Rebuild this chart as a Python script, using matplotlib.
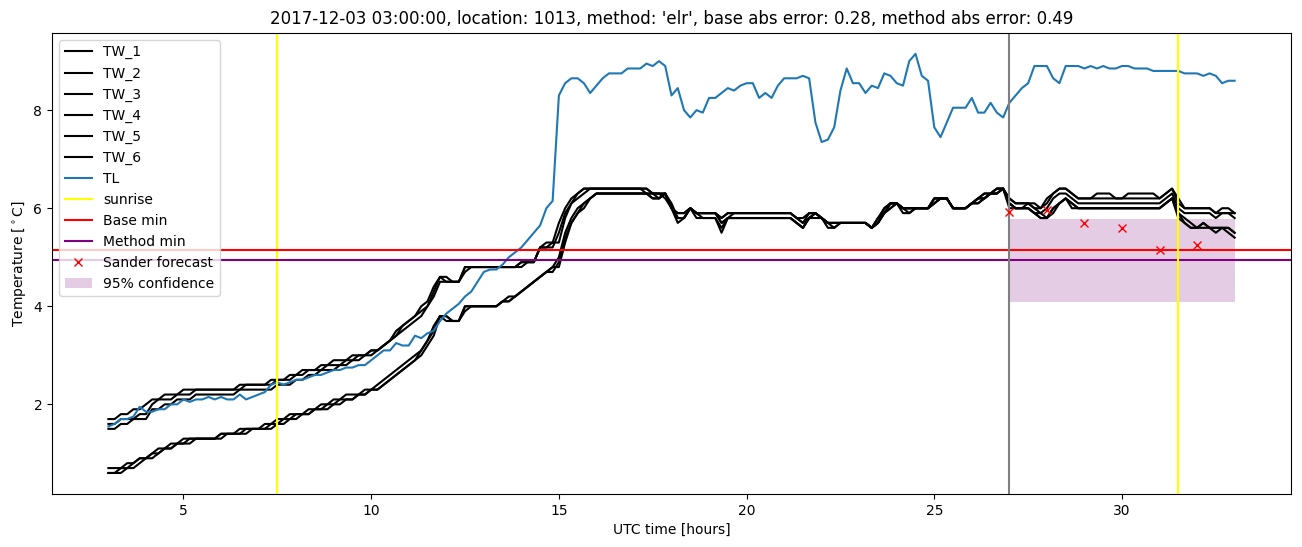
import numpy as np
import matplotlib as mpl
mpl.use('Agg')
import matplotlib.pyplot as plt


def expand(runs):
    # runs of (value, number of 10-minute samples)
    out = []
    for value, count in runs:
        out += [value] * count
    return out


# time axis: 10 minute samples from 03:00 to 33:00 UTC (hours)
hours = [3 + i / 6.0 for i in range(181)]

tw_1 = expand([(1.7, 2), (1.8, 2), (1.9, 2), (2.0, 1), (2.1, 2), (2.2, 3), (2.3, 9), (2.4, 5),
               (2.5, 3), (2.6, 2), (2.7, 3), (2.8, 2), (2.9, 3), (3.0, 3), (3.1, 2), (3.2, 1),
               (3.3, 1), (3.4, 1), (3.6, 1), (3.7, 1), (3.8, 1), (3.9, 1), (4.0, 1), (4.3, 1),
               (4.6, 2), (4.5, 2), (4.8, 9), (4.9, 3), (5.2, 1), (5.3, 2), (5.7, 1), (6.0, 1),
               (6.2, 1), (6.3, 1), (6.4, 11), (6.3, 3), (6.0, 1), (5.9, 2), (6.0, 1), (5.9, 4),
               (5.8, 1), (5.9, 11), (5.8, 1), (5.7, 1), (5.9, 2), (5.8, 1), (5.7, 7), (5.6, 1),
               (5.8, 1), (6.0, 1), (6.1, 2), (6.0, 5), (6.2, 3), (6.0, 3), (6.1, 1), (6.2, 1),
               (6.3, 2), (6.4, 2), (6.2, 1), (6.1, 3), (6.0, 2), (6.2, 1), (6.3, 1), (6.4, 2),
               (6.3, 1), (6.2, 3), (6.3, 3), (6.2, 2), (6.3, 5), (6.2, 1), (6.3, 1), (6.4, 1),
               (6.2, 1), (6.0, 5), (5.9, 1), (6.0, 2), (5.9, 1)])
tw_2 = expand([(1.5, 2), (1.6, 2), (1.7, 3), (1.9, 2), (2.0, 2), (2.1, 3), (2.2, 7), (2.3, 6),
               (2.4, 3), (2.5, 2), (2.6, 2), (2.7, 3), (2.8, 2), (2.9, 2), (3.0, 2), (3.1, 1),
               (3.2, 1), (3.3, 1), (3.4, 1), (3.5, 1), (3.6, 1), (3.7, 1), (3.8, 1), (4.0, 1),
               (4.2, 1), (4.5, 4), (4.7, 1), (4.8, 9), (4.9, 2), (5.2, 2), (5.3, 2), (5.8, 1),
               (6.1, 1), (6.2, 1), (6.3, 1), (6.4, 10), (6.3, 3), (6.0, 1), (5.8, 2), (6.0, 1),
               (5.9, 4), (5.7, 1), (5.8, 1), (5.9, 10), (5.8, 1), (5.7, 1), (5.8, 1), (5.9, 1),
               (5.8, 1), (5.7, 7), (5.6, 1), (5.7, 1), (5.9, 1), (6.1, 2), (6.0, 5), (6.1, 1),
               (6.2, 2), (6.0, 3), (6.1, 1), (6.2, 2), (6.3, 1), (6.4, 2), (6.1, 1), (6.0, 2),
               (6.1, 1), (6.0, 1), (5.9, 1), (6.0, 1), (6.2, 1), (6.3, 2), (6.2, 1), (6.1, 14),
               (6.2, 1), (6.3, 1), (6.0, 1), (5.9, 5), (5.8, 1), (5.9, 2), (5.8, 1)])
tw_3 = expand([(1.6, 2), (1.7, 3), (1.8, 2), (2.0, 1), (2.1, 3), (2.2, 3), (2.3, 8), (2.4, 5),
               (2.5, 3), (2.6, 2), (2.7, 3), (2.8, 3), (2.9, 2), (3.0, 2), (3.1, 2), (3.2, 1),
               (3.3, 1), (3.5, 1), (3.6, 1), (3.7, 1), (3.8, 1), (4.0, 1), (4.1, 1), (4.4, 1),
               (4.6, 1), (4.5, 3), (4.8, 9), (4.9, 3), (5.2, 3), (5.5, 1), (5.9, 1), (6.1, 1),
               (6.3, 1), (6.4, 10), (6.3, 3), (6.2, 1), (6.0, 1), (5.9, 2), (6.0, 1), (5.9, 4),
               (5.8, 1), (5.9, 11), (5.8, 2), (5.9, 2), (5.8, 1), (5.7, 7), (5.6, 1), (5.7, 1),
               (6.0, 1), (6.1, 2), (6.0, 5), (6.2, 3), (6.0, 3), (6.1, 1), (6.2, 1), (6.3, 3),
               (6.4, 1), (6.2, 1), (6.1, 4), (6.0, 1), (6.1, 1), (6.3, 1), (6.4, 2), (6.3, 1),
               (6.2, 14), (6.3, 1), (6.4, 1), (6.1, 1), (6.0, 5), (5.9, 4)])
tw_4 = expand([(0.6, 2), (0.7, 2), (0.8, 1), (0.9, 2), (1.0, 1), (1.1, 2), (1.2, 2), (1.3, 6),
               (1.4, 4), (1.5, 4), (1.6, 2), (1.7, 2), (1.8, 3), (1.9, 2), (2.0, 2), (2.1, 3),
               (2.2, 2), (2.3, 2), (2.4, 1), (2.5, 1), (2.6, 1), (2.7, 1), (2.8, 1), (2.9, 1),
               (3.0, 1), (3.2, 1), (3.4, 1), (3.8, 2), (3.7, 2), (4.0, 6), (4.1, 2), (4.2, 1),
               (4.3, 1), (4.4, 1), (4.5, 1), (4.6, 1), (4.7, 1), (4.8, 1), (5.0, 1), (5.5, 1),
               (5.8, 1), (6.0, 1), (6.1, 1), (6.2, 1), (6.3, 9), (6.2, 2), (6.3, 1), (6.0, 1),
               (5.7, 1), (5.8, 1), (6.0, 1), (5.9, 1), (5.8, 3), (5.6, 1), (5.8, 11), (5.7, 1),
               (5.6, 1), (5.8, 1), (5.9, 1), (5.8, 1), (5.7, 1), (5.6, 1), (5.7, 5), (5.6, 1),
               (5.7, 1), (5.9, 1), (6.0, 1), (6.1, 1), (6.0, 1), (5.9, 1), (6.0, 3), (6.1, 1),
               (6.2, 2), (6.0, 3), (6.1, 2), (6.2, 1), (6.3, 2), (6.4, 1), (6.1, 1), (6.0, 3),
               (5.9, 1), (5.8, 2), (6.0, 1), (6.1, 1), (6.2, 1), (6.0, 15), (6.1, 1), (6.2, 1),
               (5.8, 1), (5.7, 1), (5.6, 2), (5.7, 1), (5.6, 4), (5.5, 1)])
tw_5 = expand([(0.6, 3), (0.7, 2), (0.8, 1), (0.9, 2), (1.0, 1), (1.1, 2), (1.2, 2), (1.3, 6),
               (1.4, 4), (1.5, 4), (1.6, 2), (1.7, 2), (1.8, 2), (1.9, 3), (2.0, 2), (2.1, 2),
               (2.2, 2), (2.3, 2), (2.4, 1), (2.5, 1), (2.6, 1), (2.7, 1), (2.8, 1), (2.9, 1),
               (3.1, 1), (3.3, 1), (3.5, 1), (3.8, 1), (3.7, 3), (4.0, 6), (4.1, 2), (4.2, 1),
               (4.3, 1), (4.4, 1), (4.5, 1), (4.6, 1), (4.7, 2), (4.9, 1), (5.4, 1), (5.7, 1),
               (5.9, 1), (6.1, 1), (6.2, 1), (6.3, 10), (6.2, 1), (6.3, 1), (6.0, 1), (5.8, 2),
               (6.0, 1), (5.8, 4), (5.5, 1), (5.8, 11), (5.7, 1), (5.6, 1), (5.8, 3), (5.6, 2),
               (5.7, 5), (5.6, 1), (5.7, 1), (5.9, 1), (6.1, 2), (5.9, 2), (6.0, 3), (6.2, 3),
               (6.0, 3), (6.1, 2), (6.2, 1), (6.3, 2), (6.4, 1), (6.0, 4), (5.9, 1), (5.8, 2),
               (5.9, 1), (6.1, 1), (6.2, 1), (6.1, 1), (6.0, 14), (6.1, 1), (6.2, 1), (5.9, 1),
               (5.8, 1), (5.7, 1), (5.6, 3), (5.5, 1), (5.6, 1), (5.5, 1), (5.4, 1)])
tw_6 = expand([(0.7, 3), (0.8, 2), (0.9, 2), (1.0, 2), (1.1, 2), (1.2, 3), (1.3, 4), (1.4, 3),
               (1.5, 4), (1.6, 2), (1.7, 2), (1.8, 3), (1.9, 2), (2.0, 2), (2.1, 2), (2.2, 3),
               (2.3, 2), (2.4, 1), (2.5, 1), (2.6, 1), (2.7, 1), (2.8, 1), (2.9, 1), (3.0, 1),
               (3.1, 1), (3.3, 1), (3.6, 1), (3.8, 2), (3.7, 2), (3.9, 1), (4.0, 5), (4.1, 1),
               (4.2, 2), (4.3, 1), (4.4, 1), (4.5, 1), (4.6, 1), (4.7, 1), (4.8, 2), (5.3, 1),
               (5.7, 1), (5.9, 1), (6.0, 1), (6.2, 1), (6.3, 9), (6.2, 2), (6.3, 1), (6.1, 1),
               (5.8, 2), (6.0, 1), (5.9, 4), (5.7, 1), (5.8, 11), (5.7, 1), (5.6, 1), (5.8, 1),
               (5.9, 1), (5.8, 1), (5.7, 7), (5.6, 1), (5.8, 1), (5.9, 1), (6.0, 1), (6.1, 1),
               (6.0, 5), (6.1, 1), (6.2, 2), (6.0, 3), (6.1, 1), (6.2, 2), (6.3, 1), (6.4, 2),
               (6.1, 1), (6.0, 3), (5.9, 2), (5.8, 1), (6.0, 1), (6.1, 1), (6.2, 1), (6.1, 1),
               (6.0, 14), (6.1, 1), (6.2, 1), (5.9, 1), (5.7, 1), (5.6, 2), (5.7, 1), (5.6, 4),
               (5.5, 1)])

tl = [1.55, 1.6, 1.7, 1.7, 1.75, 1.95, 1.85, 1.85, 1.9, 1.9, 2.0, 2.0,
      2.1, 2.05, 2.1, 2.1, 2.15, 2.1, 2.15, 2.1, 2.1, 2.2, 2.1, 2.15,
      2.2, 2.25, 2.4, 2.45, 2.4, 2.45, 2.5, 2.5, 2.55, 2.6, 2.6, 2.65,
      2.7, 2.7, 2.75, 2.75, 2.8, 2.8, 2.9, 3.0, 3.1, 3.1, 3.25, 3.2,
      3.2, 3.4, 3.35, 3.45, 3.5, 3.7, 3.85, 3.95, 4.05, 4.2, 4.3, 4.5,
      4.7, 4.75, 4.75, 4.85, 5.0, 5.1, 5.2, 5.35, 5.5, 5.65, 6.0, 6.15,
      8.3, 8.55, 8.65, 8.65, 8.55, 8.35, 8.5, 8.65, 8.75, 8.75, 8.75, 8.85,
      8.85, 8.85, 8.95, 8.9, 9.0, 8.9, 8.3, 8.45, 8.0, 7.85, 8.0, 7.95,
      8.25, 8.25, 8.35, 8.45, 8.4, 8.5, 8.55, 8.55, 8.25, 8.35, 8.25, 8.5,
      8.65, 8.65, 8.65, 8.7, 8.65, 7.75, 7.35, 7.4, 7.65, 8.4, 8.85, 8.55,
      8.55, 8.35, 8.5, 8.45, 8.75, 8.7, 8.55, 8.5, 9.0, 9.15, 8.7, 8.6,
      7.65, 7.45, 7.75, 8.05, 8.05, 8.05, 8.25, 7.95, 7.95, 8.15, 7.95, 7.85,
      8.15, 8.3, 8.45, 8.55, 8.9, 8.9, 8.9, 8.65, 8.55, 8.9, 8.9, 8.9,
      8.85, 8.9, 8.85, 8.9, 8.85, 8.85, 8.9, 8.9, 8.85, 8.85, 8.85, 8.8,
      8.8, 8.8, 8.8, 8.8, 8.75, 8.75, 8.75, 8.7, 8.75, 8.7, 8.55, 8.6,
      8.6]

sunrise_hours = [7.5, 31.5]
forecast_start = 27.0
base_min = 5.15
method_min = 4.94

forecast_hours = [27, 28, 29, 30, 31, 32]
forecast_temp = [5.92, 5.96, 5.69, 5.59, 5.15, 5.25]

conf_hours = [27, 33]
conf_low = [4.08, 4.08]
conf_high = [5.79, 5.79]

title = ("2017-12-03 03:00:00, location: 1013, method: 'elr', "
         "base abs error: 0.28, method abs error: 0.49")


def PlotForecast(savefile):
    fig = plt.figure(figsize=(13.02, 5.47), dpi=100)
    ax = fig.add_axes([0.040, 0.097, 0.9515, 0.843])
    for i, tw in enumerate([tw_1, tw_2, tw_3, tw_4, tw_5, tw_6]):
        ax.plot(hours, tw, color='black', label='TW_{}'.format(i + 1))
    ax.plot(hours, tl, color='tab:blue', label='TL')
    ax.axvline(sunrise_hours[0], color='yellow', label='sunrise')
    ax.axhline(base_min, color='red', label='Base min')
    ax.axhline(method_min, color='purple', label='Method min')
    ax.axvline(forecast_start, color='gray')
    ax.plot(forecast_hours, forecast_temp, 'rx', label='Sander forecast')
    ax.fill_between(conf_hours, conf_low, conf_high, color='purple', alpha=0.2,
                    linewidth=0, label='95% confidence')
    ax.axvline(sunrise_hours[1], color='yellow')
    ax.set_xlabel('UTC time [hours]')
    ax.set_ylabel('Temperature [$^\\circ$C]')
    ax.set_title(title)
    ax.legend(loc='upper left')
    fig.savefig(savefile)


if __name__ == "__main__":
    PlotForecast('out.png')
